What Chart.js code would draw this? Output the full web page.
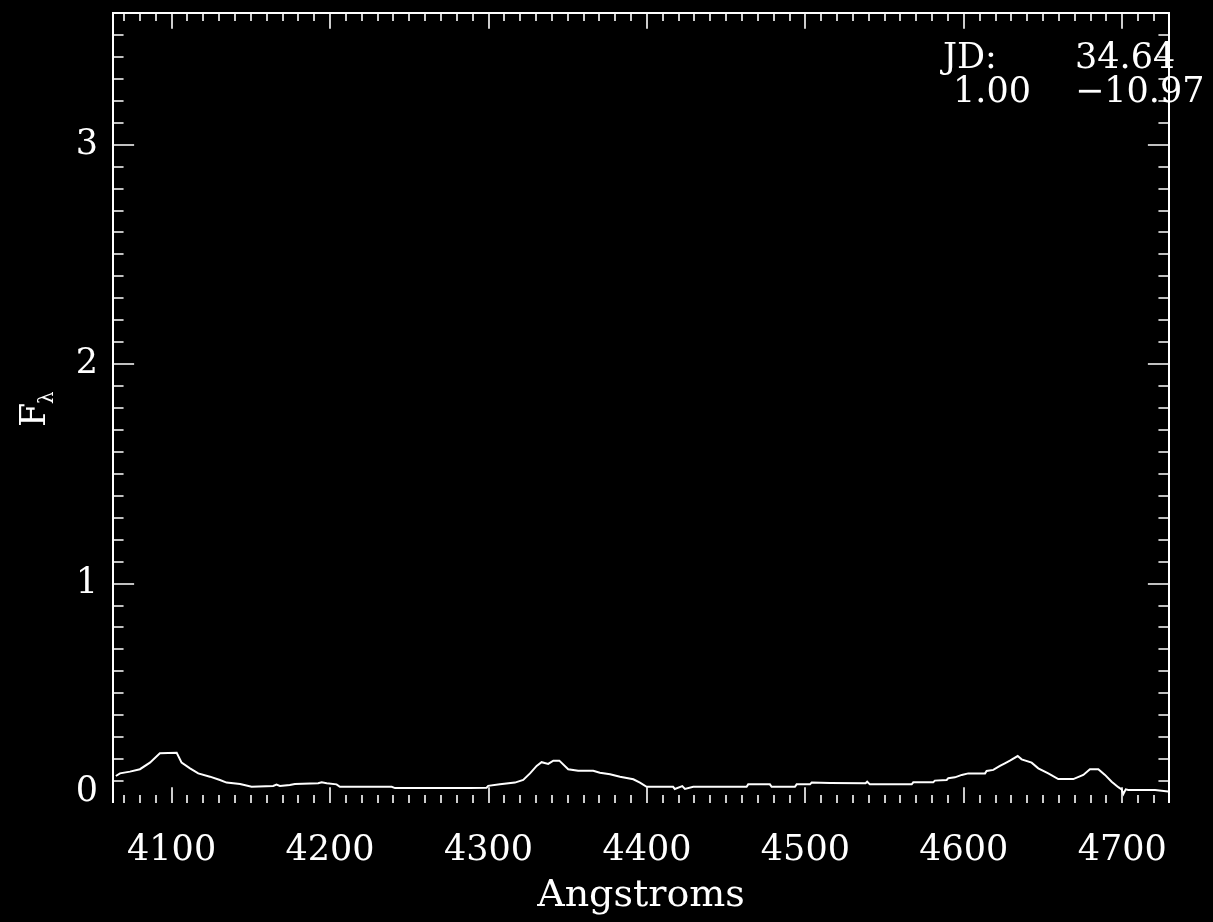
<!DOCTYPE html>
<html>
<head>
<meta charset="utf-8">
<script src="https://cdn.jsdelivr.net/npm/chart.js@4.4.1/dist/chart.umd.min.js"></script>
<style>
  html, body { margin: 0; padding: 0; background: #000; }
  #wrap { width: 1213px; height: 922px; }
</style>
</head>
<body>
<div id="wrap"><canvas id="c" width="1213" height="922"></canvas></div>
<script>
// ---- data ----
const wavelength = [
  4064.8, 4067.4, 4073.7, 4080.0, 4086.3, 4092.6, 4103.2, 4106.3, 4111.6, 4116.8,
  4124.2, 4130.5, 4134.7, 4143.2, 4150.5, 4164.1, 4166.2, 4168.3, 4174.6, 4177.8,
  4192.5, 4194.7, 4197.9, 4204.1, 4206.2, 4238.9, 4241.0, 4288.3, 4298.8, 4299.8,
  4307.2, 4316.7, 4321.9, 4326.2, 4330.4, 4333.5, 4337.7, 4340.9, 4344.7, 4350.3,
  4356.6, 4366.1, 4370.3, 4376.7, 4383.0, 4391.4, 4395.6, 4399.8, 4416.5, 4417.6,
  4422.3, 4424.0, 4429.2, 4462.9, 4463.9, 4477.6, 4478.7, 4493.4, 4494.5, 4502.9,
  4504.0, 4515.5, 4538.0, 4539.0, 4540.7, 4567.1, 4568.1, 4580.7, 4581.7, 4589.2,
  4590.2, 4594.4, 4598.7, 4602.8, 4613.4, 4614.4, 4618.6, 4622.8, 4625.9, 4629.1,
  4634.0, 4636.5, 4642.8, 4647.0, 4653.3, 4659.6, 4669.1, 4675.4, 4679.6, 4684.9,
  4689.1, 4693.3, 4697.5, 4699.6, 4700.7, 4702.2, 4703.8, 4720.7, 4729.0
];
const flux = [
  0.123, 0.135, 0.143, 0.154, 0.184, 0.227, 0.229, 0.184, 0.158, 0.135,
  0.120, 0.105, 0.093, 0.087, 0.074, 0.078, 0.084, 0.078, 0.082, 0.087,
  0.090, 0.094, 0.090, 0.085, 0.074, 0.074, 0.068, 0.068, 0.070, 0.078,
  0.085, 0.093, 0.105, 0.135, 0.169, 0.186, 0.178, 0.193, 0.193, 0.154,
  0.147, 0.147, 0.138, 0.131, 0.120, 0.108, 0.093, 0.074, 0.074, 0.064,
  0.077, 0.064, 0.074, 0.074, 0.085, 0.085, 0.074, 0.074, 0.085, 0.085,
  0.093, 0.091, 0.090, 0.097, 0.085, 0.085, 0.094, 0.094, 0.102, 0.105,
  0.113, 0.117, 0.128, 0.135, 0.135, 0.146, 0.151, 0.169, 0.181, 0.193,
  0.214, 0.199, 0.184, 0.158, 0.135, 0.109, 0.109, 0.128, 0.154, 0.154,
  0.128, 0.097, 0.072, 0.062, 0.041, 0.062, 0.059, 0.059, 0.052
];
const xTickLabels = [4100, 4200, 4300, 4400, 4500, 4600, 4700];
const yTickLabels = [0, 1, 2, 3];
const xMinorStep = 10;
const yMinorStep = 0.1;
const xRange = [4063, 4729.5];
const yRange = [0, 3.6];
const annotLine1 = ['JD:', '34.64'];
const annotLine2 = ['1.00', '\u221210.97'];
const xTitle = 'Angstroms';
const yTitleMain = 'F';
const yTitleSub = '\u03bb';

const FONT = '"DejaVu Serif", "Liberation Serif", serif';
const WHITE = '#ffffff';

const points = wavelength.map((w, i) => ({ x: w, y: flux[i] }));

// Inward tick marks (IDL style) + frame, positioned by the chart scales
const framePlugin = {
  id: 'frameTicks',
  beforeDraw(chart) {
    const { ctx, width, height } = chart;
    ctx.save();
    ctx.fillStyle = '#000';
    ctx.fillRect(0, 0, width, height);
    ctx.restore();
  },
  afterDraw(chart) {
    const { ctx, chartArea: a, scales: { x, y } } = chart;
    ctx.save();
    ctx.strokeStyle = WHITE;
    ctx.lineWidth = 2;
    ctx.beginPath();
    ctx.moveTo(a.left, a.bottom);
    ctx.lineTo(a.left, a.top);
    ctx.lineTo(a.right, a.top);
    ctx.lineTo(a.right, a.bottom);
    ctx.stroke();

    const hv = a.bottom - a.top, wv = a.right - a.left;
    const xMaj = 0.02 * hv, xMin = 0.01 * hv;
    const yMaj = 0.02 * wv, yMin = 0.01 * wv;
    ctx.lineWidth = 1.6;
    ctx.beginPath();
    const xStart = Math.ceil(xRange[0] / xMinorStep) * xMinorStep;
    for (let v = xStart; v <= xRange[1] + 1e-6; v += xMinorStep) {
      const px = Math.round(x.getPixelForValue(v));
      const major = xTickLabels.includes(Math.round(v));
      const len = major ? xMaj : xMin;
      ctx.moveTo(px, a.bottom); ctx.lineTo(px, a.bottom - len);
      ctx.moveTo(px, a.top); ctx.lineTo(px, a.top + len);
    }
    const nY = Math.round((yRange[1] - yRange[0]) / yMinorStep);
    for (let k = 1; k <= nY; k++) {
      const v = yRange[0] + k * yMinorStep;
      const py = Math.round(y.getPixelForValue(v));
      const major = Math.abs(v - Math.round(v)) < 1e-6;
      const len = major ? yMaj : yMin;
      ctx.moveTo(a.left, py); ctx.lineTo(a.left + len, py);
      ctx.moveTo(a.right, py); ctx.lineTo(a.right - len, py);
    }
    ctx.stroke();

    ctx.fillStyle = WHITE;
    ctx.font = '35px ' + FONT;
    ctx.textAlign = 'left';
    ctx.textBaseline = 'alphabetic';
    ctx.fillText(annotLine1[0], 943, 68);
    ctx.fillText(annotLine1[1], 1075, 68);
    ctx.fillText(annotLine2[0], 953, 102);
    ctx.fillText(annotLine2[1], 1075, 102);

    ctx.save();
    ctx.translate(45, 427);
    ctx.rotate(-Math.PI / 2);
    ctx.font = '35px ' + FONT;
    ctx.fillText(yTitleMain, 0, 0);
    ctx.font = '20px ' + FONT;
    ctx.fillText(yTitleSub, 23, 8);
    ctx.restore();
    ctx.restore();
  }
};

new Chart(document.getElementById('c'), {
  type: 'line',
  data: {
    datasets: [{
      data: points,
      borderColor: WHITE,
      borderWidth: 2,
      pointRadius: 0,
      tension: 0,
      fill: false
    }]
  },
  options: {
    responsive: false,
    animation: false,
    devicePixelRatio: 1,
    layout: { padding: { top: 13, right: 44, left: 0, bottom: 0 } },
    plugins: { legend: { display: false }, tooltip: { enabled: false }, title: { display: false } },
    scales: {
      x: {
        type: 'linear',
        min: xRange[0],
        max: xRange[1],
        afterBuildTicks: (s) => { s.ticks = xTickLabels.map(v => ({ value: v })); },
        afterFit: (s) => { s.height = 119; s.paddingLeft = 0; s.paddingRight = 0; },
        grid: { display: false, drawTicks: false },
        border: { display: false },
        ticks: {
          color: WHITE,
          font: { family: FONT, size: 35 },
          padding: 27,
          maxRotation: 0,
          autoSkip: false,
          callback: (v) => String(v)
        },
        title: {
          display: true,
          text: xTitle,
          color: WHITE,
          font: { family: FONT, size: 38 },
          padding: { top: 0, bottom: 3 }
        }
      },
      y: {
        type: 'linear',
        min: yRange[0],
        max: yRange[1],
        afterBuildTicks: (s) => { s.ticks = yTickLabels.map(v => ({ value: v })); },
        afterFit: (s) => { s.width = 113; s.paddingTop = 0; s.paddingBottom = 0; },
        grid: { display: false, drawTicks: false },
        border: { display: false },
        ticks: {
          color: WHITE,
          // the lowest label sits slightly above its tick, as in the reference
          font: (c) => (c.tick && c.tick.value === 0)
            ? { family: FONT, size: 35, lineHeight: 0.62 }
            : { family: FONT, size: 35 },
          padding: 15,
          callback: (v) => (v === 0 ? [String(v), ''] : String(v))
        }
      }
    }
  },
  plugins: [framePlugin]
});
</script>
</body>
</html>
